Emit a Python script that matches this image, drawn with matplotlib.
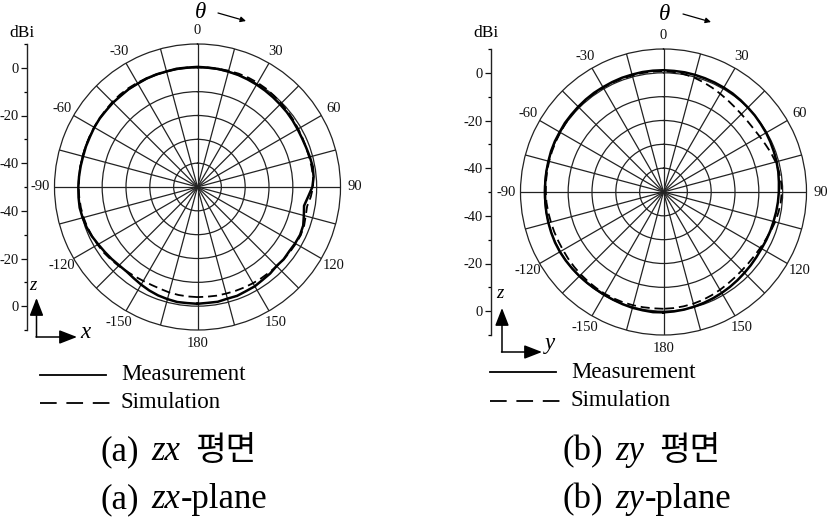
import numpy as np
import matplotlib
matplotlib.use("Agg")
import matplotlib.pyplot as plt
from matplotlib.lines import Line2D

plt.rcParams['font.family'] = ['Liberation Serif', 'DejaVu Serif']
plt.rcParams['lines.scale_dashes'] = False

# ---------------- data ----------------
theta_deg = list(range(-180, 185, 5))

zx_meas = [-1.0, -1.1, -1.0, -1.3, -1.6, -2.1, -2.7, -3.3, -3.7, -3.5, -3.0, -2.5, -1.9,
           -1.1, -0.5, -0.1, 0.2, 0.1, 0.0, -0.1, -0.2, -0.3, -0.2, -0.2, 0.0, 0.1, 0.0,
           0.1, 0.0, 0.2, 0.1, 0.3, 0.3, 0.2, 0.4, 0.3, 0.4, 0.3, 0.3, 0.1, 0.0, -0.2,
           -0.4, -0.6, -0.8, -1.0, -1.1, -1.3, -1.5, -1.6, -1.5, -1.2, -0.9, -1.1, -1.8,
           -3.4, -4.6, -3.8, -2.8, -2.5, -2.7, -3.0, -2.8, -3.1, -2.6, -2.4, -1.9, -1.8,
           -1.4, -1.5, -1.1, -1.2, -1.0]
zx_sim = [-3.8, -3.9, -4.0, -4.2, -4.5, -4.6, -4.5, -4.2, -3.8, -3.2, -2.6, -2.0, -1.6,
          -1.2, -0.8, -0.5, -0.3, -0.2, -0.1, -0.1, -0.1, -0.1, 0.0, 0.0, 0.1, 0.2, 0.3,
          0.5, 0.6, 0.6, 0.5, 0.4, 0.3, 0.3, 0.3, 0.3, 0.3, 0.3, 0.4, 0.5, 0.6, 0.6,
          0.5, 0.3, 0.0, -0.3, -0.6, -0.9, -1.2, -1.4, -1.5, -1.5, -1.4, -1.3, -1.5,
          -2.3, -3.3, -3.0, -2.4, -2.2, -2.4, -2.6, -2.8, -3.0, -3.2, -3.3, -3.4, -3.5,
          -3.6, -3.7, -3.7, -3.8, -3.8]
zy_meas = [0.5, 0.6, 0.4, 0.3, 0.1, -0.1, -0.2, -0.3, -0.2, -0.1, 0.0, 0.1, 0.2,
           0.2, 0.1, 0.0, -0.1, -0.2, -0.3, -0.2, -0.1, 0.0, 0.2, 0.3, 0.3, 0.5, 0.5,
           0.6, 0.7, 0.8, 0.8, 0.9, 1.0, 1.0, 1.1, 1.1, 1.1, 1.0, 1.0, 0.9, 0.8, 0.7,
           0.6, 0.5, 0.3, 0.1, 0.0, -0.2, -0.3, -0.5, -0.7, -0.9, -1.1, -1.4, -1.6,
           -1.8, -2.0, -2.2, -2.3, -2.4, -2.5, -2.4, -2.2, -2.0, -1.7, -1.4, -1.1, -0.8,
           -0.5, -0.2, 0.1, 0.3, 0.5]
zy_sim = [-1.0, -1.0, -0.9, -0.8, -0.7, -0.7, -0.7, -0.8, -0.9, -1.0, -1.1, -1.2, -1.3,
          -1.3, -1.2, -1.1, -0.9, -0.7, -0.6, -0.5, -0.4, -0.3, -0.2, -0.1, 0.0, 0.2, 0.3,
          0.4, 0.5, 0.5, 0.6, 0.6, 0.6, 0.6, 0.7, 0.7, 0.7, 0.5, 0.2, -0.3, -1.0, -1.7,
          -2.4, -3.0, -3.5, -3.8, -3.9, -3.8, -3.4, -2.8, -2.0, -1.3, -0.8, -0.5, -0.4,
          -0.6, -1.0, -1.5, -2.1, -2.7, -3.1, -3.4, -3.5, -3.5, -3.3, -3.0, -2.6, -2.2,
          -1.8, -1.5, -1.3, -1.1, -1.0]

r_min, r_max = -50, 10
ring_values = [-40, -30, -20, -10, 0]
spoke_step = 15
angle_labels = [0, 30, 60, 90, 120, 150, 180, -150, -120, -90, -60, -30]
dbi_tick_pos = [-50, -30, -10, 10, 30, 50]
dbi_tick_lab = ['0', '-20', '-40', '-40', '-20', '0']
dbi_minor = [-60, -40, -20, 0, 20, 40, 60]
legend_labels = ['Measurement', 'Simulation']

W, H = 827, 518
fig = plt.figure(figsize=(W / 100, H / 100), dpi=100)
fig.patch.set_facecolor('white')


def fx(x):
    return x / W


def fy(y):
    return 1 - y / H


GRID = '#222222'


def make_panel(cx, cy, R, axis_x, meas, sim, theta_xy, z_pos, h_lab, h_pos, arrow_v, arrow_h,
               leg_x, leg_y, cap):
    ax = fig.add_axes([fx(cx - R), fy(cy + R), 2 * R / W, 2 * R / H], projection='polar')
    ax.set_theta_zero_location('N')
    ax.set_theta_direction(-1)
    ax.set_ylim(r_min, r_max)
    ax.set_yticks(ring_values)
    ax.set_yticklabels([])
    ax.set_xticks(np.deg2rad(np.arange(0, 360, spoke_step)))
    ax.set_xticklabels([])
    ax.grid(True, color=GRID, lw=0.9)
    ax.spines['polar'].set_color(GRID)
    ax.spines['polar'].set_linewidth(0.9)
    th = np.deg2rad(theta_deg)
    ax.plot(th, sim, color='black', lw=1.3, dashes=(6.5, 3.5), zorder=4)
    ax.plot(th, meas, color='black', lw=1.8, zorder=5)
    for a in angle_labels:
        ax.text(np.deg2rad(a), 15.8, str(a), ha='center', va='center', fontsize=10.5,
                clip_on=False, color='#111')

    # dBi scale
    axd = fig.add_axes([fx(axis_x), fy(cy + R), 0.0005, 2 * R / H])
    axd.set_ylim(-60, 60)
    for s in ['right', 'top', 'bottom']:
        axd.spines[s].set_visible(False)
    axd.spines['left'].set_linewidth(1.0)
    axd.spines['left'].set_color('#222')
    axd.patch.set_visible(False)
    axd.set_xticks([])
    axd.set_yticks(dbi_tick_pos)
    axd.set_yticklabels(dbi_tick_lab)
    axd.set_yticks(dbi_minor, minor=True)
    axd.tick_params(axis='y', which='major', direction='out', length=4, width=0.9,
                    labelsize=10.5, pad=2, colors='#111')
    axd.tick_params(axis='y', which='minor', direction='out', length=2.5, width=0.9)
    fig.text(fx(axis_x - 5), fy(33), 'dBi', ha='center', va='center', fontsize=12.5)

    # theta label and arrow
    tx, ty = theta_xy
    fig.text(fx(tx), fy(ty), 'θ', ha='center', va='center', fontsize=16.5, style='italic')
    ax.annotate('', xy=(tx + 46, H - (ty + 8)), xytext=(tx + 18, H - (ty + 0)),
                xycoords='figure pixels', textcoords='figure pixels', annotation_clip=False,
                arrowprops=dict(arrowstyle='-|>', lw=0.9, color='black', mutation_scale=8,
                                shrinkA=0, shrinkB=0))

    # coordinate glyph
    (vx, vy0, vy1) = arrow_v
    hx1 = arrow_h
    ax.annotate('', xy=(vx, H - vy1), xytext=(vx, H - vy0), xycoords='figure pixels',
                textcoords='figure pixels', annotation_clip=False,
                arrowprops=dict(arrowstyle='-|>,head_length=0.9,head_width=0.35', lw=1.1,
                                color='black', mutation_scale=12, shrinkA=0, shrinkB=0))
    ax.annotate('', xy=(hx1, H - vy0), xytext=(vx - 0.5, H - vy0), xycoords='figure pixels',
                textcoords='figure pixels', annotation_clip=False,
                arrowprops=dict(arrowstyle='-|>,head_length=0.9,head_width=0.35', lw=1.1,
                                color='black', mutation_scale=12, shrinkA=0, shrinkB=0))
    fig.text(fx(z_pos[0]), fy(z_pos[1]), 'z', ha='center', va='center', fontsize=13.5,
             style='italic')
    fig.text(fx(h_pos[0]), fy(h_pos[1]), h_lab, ha='center', va='center', fontsize=16.5,
             style='italic')

    # legend
    ly1, ly2 = leg_y
    fig.add_artist(Line2D([fx(leg_x), fx(leg_x + 66)], [fy(ly1), fy(ly1)], color='black',
                          lw=1.3))
    fig.add_artist(Line2D([fx(leg_x), fx(leg_x + 71)], [fy(ly2), fy(ly2)], color='black',
                          lw=1.3, dashes=(12, 7)))
    fig.text(fx(leg_x + 81), fy(ly1), legend_labels[0], ha='left', va='center', fontsize=16.5)
    fig.text(fx(leg_x + 81), fy(ly2), legend_labels[1], ha='left', va='center', fontsize=16.5)

    # captions
    letter, plane, x0 = cap
    renderer = fig.canvas.get_renderer()

    def flow(x, y, pieces):
        for s, kw, gap in pieces:
            t = fig.text(fx(x), fy(y), s, ha='left', va='baseline', **kw)
            bb = t.get_window_extent(renderer)
            x = x + bb.width + gap
    serif = dict(fontsize=25)
    ital = dict(fontsize=25, style='italic')
    kor = dict(fontsize=24, family=['Noto Sans CJK KR'])
    flow(x0, 460, [('(' + letter + ')', serif, 13), (plane, ital, 15), ('평면', kor, 0)])
    flow(x0, 508, [('(' + letter + ')', serif, 13), (plane, ital, 0), ('-plane', serif, 0)])


make_panel(197.5, 187, 143, 27, zx_meas, zx_sim, (200, 13), (33, 286), 'x', (85, 332),
           (36.5, 337, 298), 77, 40, (375, 403), ('a', 'zx', 100))
make_panel(663.5, 192, 143, 491, zy_meas, zy_sim, (665, 14), (500, 294), 'y', (550, 344),
           (502, 352, 308), 542, 490, (372, 401), ('b', 'zy', 562))

fig.savefig('out.png', dpi=100, facecolor='white')
